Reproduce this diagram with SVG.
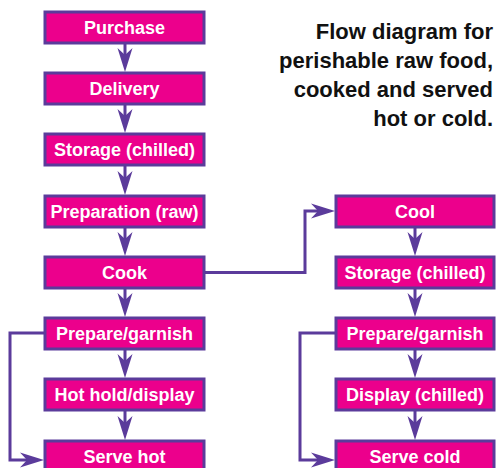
<svg xmlns="http://www.w3.org/2000/svg" width="496" height="468" viewBox="0 0 496 468">
<style>
.box{fill:#ec008c;stroke:#5b3b9b;stroke-width:3}
.lbl{font-family:"Liberation Sans",Arial,sans-serif;font-weight:bold;font-size:18px;fill:#ffffff;text-anchor:middle}
.title{font-family:"Liberation Sans",Arial,sans-serif;font-weight:bold;font-size:22px;fill:#111111;text-anchor:end}
.con{fill:none;stroke:#5b3b9b;stroke-width:3;marker-end:url(#ah)}
</style>
<defs>
<marker id="ah" markerUnits="userSpaceOnUse" markerWidth="26" markerHeight="18" viewBox="0 -9 26 18" refX="7" refY="0" orient="auto">
<path d="M24,0 L0,-7.5 L7,0 L0,7.5 Z" fill="#5b3b9b"/>
</marker>
</defs>
<g id="title">
<text class="title" x="493" y="39">Flow diagram for</text>
<text class="title" x="493" y="68">perishable raw food,</text>
<text class="title" x="493" y="97">cooked and served</text>
<text class="title" x="493" y="126">hot or cold.</text>
</g>
<g id="connectors">
<line class="con" x1="125" y1="43" x2="125" y2="55"/>
<line class="con" x1="125" y1="104" x2="125" y2="116"/>
<line class="con" x1="125" y1="165" x2="125" y2="178"/>
<line class="con" x1="125" y1="227" x2="125" y2="239"/>
<line class="con" x1="125" y1="288" x2="125" y2="300"/>
<line class="con" x1="125" y1="349" x2="125" y2="361"/>
<line class="con" x1="125" y1="410" x2="125" y2="423"/>
<line class="con" x1="415" y1="227" x2="415" y2="239"/>
<line class="con" x1="415" y1="288" x2="415" y2="300"/>
<line class="con" x1="415" y1="349" x2="415" y2="361"/>
<line class="con" x1="415" y1="410" x2="415" y2="423"/>
<polyline class="con" points="204,272.5 305,272.5 305,211 318,211"/>
<polyline class="con" points="45,333 10,333 10,460 27,460"/>
<polyline class="con" points="336,333 300,333 300,460 318,460"/>
</g>
<g id="purchase"><rect class="box" x="45" y="12" width="159" height="31"/><text class="lbl" x="124.5" y="33.5">Purchase</text></g>
<g id="delivery"><rect class="box" x="45" y="73" width="159" height="31"/><text class="lbl" x="124.5" y="94.5">Delivery</text></g>
<g id="storage1"><rect class="box" x="45" y="134" width="159" height="31"/><text class="lbl" x="124.5" y="155.5">Storage (chilled)</text></g>
<g id="preparation"><rect class="box" x="45" y="196" width="159" height="31"/><text class="lbl" x="124.5" y="217.5">Preparation (raw)</text></g>
<g id="cook"><rect class="box" x="45" y="257" width="159" height="31"/><text class="lbl" x="124.5" y="278.5">Cook</text></g>
<g id="prepare1"><rect class="box" x="45" y="318" width="159" height="31"/><text class="lbl" x="124.5" y="339.5">Prepare/garnish</text></g>
<g id="hothold"><rect class="box" x="45" y="379" width="159" height="31"/><text class="lbl" x="124.5" y="400.5">Hot hold/display</text></g>
<g id="servehot"><rect class="box" x="45" y="441" width="159" height="31"/><text class="lbl" x="124.5" y="462.5">Serve hot</text></g>
<g id="cool"><rect class="box" x="336" y="196" width="158" height="31"/><text class="lbl" x="415" y="217.5">Cool</text></g>
<g id="storage2"><rect class="box" x="336" y="257" width="158" height="31"/><text class="lbl" x="415" y="278.5">Storage (chilled)</text></g>
<g id="prepare2"><rect class="box" x="336" y="318" width="158" height="31"/><text class="lbl" x="415" y="339.5">Prepare/garnish</text></g>
<g id="display"><rect class="box" x="336" y="379" width="158" height="31"/><text class="lbl" x="415" y="400.5">Display (chilled)</text></g>
<g id="servecold"><rect class="box" x="336" y="441" width="158" height="31"/><text class="lbl" x="415" y="462.5">Serve cold</text></g>
</svg>
